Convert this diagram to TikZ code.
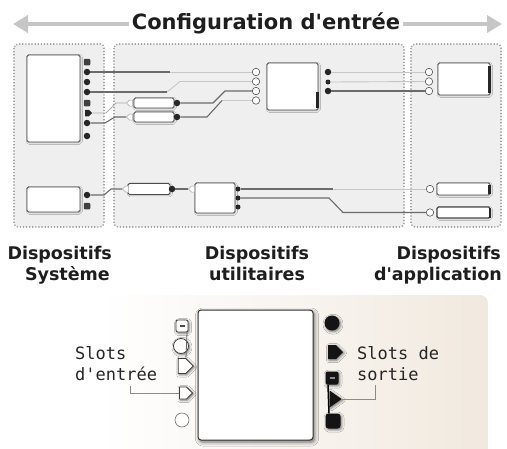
\documentclass[tikz,border=0pt]{standalone}
\usepackage{fontspec}
\setmainfont{DejaVu Sans}
\newfontfamily\monof{DejaVu Sans Mono}
\usetikzlibrary{arrows.meta,shapes.geometric,shapes.symbols,shadows.blur,calc}
\definecolor{panelfill}{HTML}{EFEFEF}
\definecolor{paneldot}{HTML}{A6A6A6}
\definecolor{beige}{HTML}{F1E9DF}
\definecolor{arrowgray}{HTML}{C6C6C6}
\definecolor{textdark}{HTML}{1E1E1E}
\tikzset{
  panel/.style={fill=panelfill, draw=paneldot, line width=1.6pt, dash pattern=on 1.2pt off 1.9pt, rounded corners=4pt},
  dev/.style={draw=black!70, fill=white, line width=0.8pt, rounded corners=1.5pt, inner sep=0pt,
    blur shadow={shadow xshift=0.8pt, shadow yshift=-0.8pt, shadow blur radius=1.5pt, shadow opacity=25}},
  outc/.style={circle, fill=black!85, inner sep=0pt, minimum size=6.5pt},
  outsq/.style={rectangle, fill=black!75, rounded corners=1pt, inner sep=0pt, minimum size=6.5pt},
  outsig/.style={signal, signal to=east, fill=black!85, inner sep=0pt, minimum width=7pt, minimum height=6.5pt},
  ins/.style={circle, draw=black!65, fill=white, line width=0.6pt, inner sep=0pt, minimum size=7.5pt},
  insig/.style={signal, signal to=west, draw=black!35, fill=white, line width=0.5pt, inner sep=0pt, minimum width=6pt, minimum height=6pt},
  wire/.style={draw=black!58, line width=1.1pt},
  faint/.style={draw=black!22, line width=0.9pt},
  lab/.style={font=\bfseries\fontsize{17.5}{21}\selectfont, text=textdark, inner sep=0pt},
  mono/.style={font=\monof\fontsize{17}{20}\selectfont, text=black!85, inner sep=0pt},
  slotshadow/.style={blur shadow={shadow xshift=1pt, shadow yshift=-1.2pt, shadow blur radius=2.5pt, shadow opacity=55}},
  inslot/.style={draw=black!75, fill=white, line width=0.8pt, inner sep=0pt, slotshadow},
  outslot/.style={fill=black!92, inner sep=0pt, slotshadow},
  callout/.style={draw=black!45, line width=1pt},
  thick edge/.style={draw=black!85, line width=2.2pt}
}
\begin{document}
\begin{tikzpicture}[x=1pt, y=-1pt]
\useasboundingbox (0,0) rectangle (507,448);

% ---------- title ----------
\draw[arrowgray, line width=4.5pt, {Triangle[length=15pt,width=17pt]}-{Triangle[length=15pt,width=17pt]}] (13,24) -- (502,24);
\node[fill=white, inner xsep=3pt, inner ysep=2pt, anchor=base, font=\bfseries\fontsize{21}{24}\selectfont, text=textdark] (title) at (266,29.5) {Configuration d\textquotesingle entrée};

% ---------- panels ----------
\path[panel] (14,44) rectangle (104,227);
\path[panel] (114,44) rectangle (404,227);
\path[panel] (411,44) rectangle (501,227);

% ---------- system devices ----------
\node[dev, minimum width=53pt, minimum height=87pt] (sysA) at (53.5,98.5) {};
\node[outsq]  (p1) at (87,62) {};
\node[outc]   (p2) at (87,72) {};
\node[outc]   (p3) at (87,82) {};
\node[outc]   (p4) at (87,92) {};
\node[outsq]  (p5) at (87,103) {};
\node[outsig] (p6) at (87,113) {};
\node[outc]   (p7) at (87,123) {};
\node[outc]   (p8) at (87,136) {};

\node[dev, minimum width=53pt, minimum height=25pt] (sysB) at (53.5,199.5) {};
\node[outc]  (q1) at (87,195) {};
\node[outsq] (q2) at (87,206) {};

% ---------- utility devices ----------
\node[dev, minimum width=40pt, minimum height=10pt] (f1) at (154,103) {};
\node[dev, minimum width=40pt, minimum height=10pt] (f2) at (154,117) {};
\node[insig] (f1in) at (131,103) {};
\node[insig] (f2in) at (131,117) {};
\node[outc] (f1out) at (177,103) {};
\node[outc] (f2out) at (177,117) {};

\node[dev, minimum width=51pt, minimum height=47pt] (M) at (292.5,86.5) {};
\draw[thick edge] ($(M.south east)+(-1,-18)$) -- ($(M.south east)+(-1,-2)$);
\node[ins] (mi1) at (256,72) {};
\node[ins] (mi2) at (256,81.5) {};
\node[ins] (mi3) at (256,91) {};
\node[ins] (mi4) at (256,100.5) {};
\node[outc] (mo1) at (328,72) {};
\node[outc, minimum size=5pt] (mo2) at (328,82) {};
\node[outc] (mo3) at (328,91) {};

\node[dev, minimum width=42pt, minimum height=11pt] (L) at (149,189) {};
\node[insig] (li) at (127,189) {};
\node[outc] (lo) at (172,189) {};

\node[dev, minimum width=40pt, minimum height=30pt] (N) at (215,198) {};
\node[insig] (ni) at (193,189) {};
\node[outc, minimum size=5pt] (no1) at (238,189) {};
\node[outc, minimum size=5pt] (no2) at (238,198) {};
\node[outc, minimum size=5pt] (no3) at (238,207) {};

% ---------- application devices ----------
\node[dev, minimum width=52pt, minimum height=32pt] (R) at (464,79) {};
\draw[thick edge] ($(R.north east)+(-1,3)$) -- ($(R.south east)+(-1,-2)$);
\node[ins] (ri1) at (429,72) {};
\node[ins] (ri2) at (429,81.5) {};
\node[ins] (ri3) at (429,91) {};

\node[dev, minimum width=53pt, minimum height=12pt] (RB1) at (463.5,189) {};
\draw[thick edge] ($(RB1.north east)+(-1,2)$) -- ($(RB1.south east)+(-1,-1)$);
\node[ins] (rb1i) at (430,189) {};
\node[dev, minimum width=53pt, minimum height=11pt, line width=1.3pt] (RB2) at (463.5,212.5) {};
\draw[thick edge] ($(RB2.north east)+(-1,2)$) -- ($(RB2.south east)+(-1,-1)$);
\node[ins] (rb2i) at (430,212.5) {};

% ---------- wires ----------
\coordinate (wa) at (170,72);
\draw[faint] (p2.east) -- (mi1.west);
\draw[wire] (p2.east) -- (wa);

\coordinate (wb1) at (167,92);
\coordinate (wb2) at (180,81.5);
\draw[faint] (wb1) -- (wb2) -- (mi2.west);
\draw[wire] (p4.east) -- (wb1);

\coordinate (wc1) at (213,103);
\coordinate (wc2) at (225,91);
\draw[wire] (f1out.east) -- (wc1) -- (wc2) -- (mi3.west);

\coordinate (wd1) at (207,117);
\coordinate (wd2) at (222,100.5);
\draw[faint] (wd2) -- (mi4.west);
\draw[wire] (f2out.east) -- (wd1) -- (wd2);

\coordinate (we1) at (106,113);
\coordinate (we2) at (116,103);
\draw[draw=black!32, line width=0.9pt] (p6.east) -- (we1) -- (we2) -- (f1in.west);

\coordinate (wf1) at (105,123);
\coordinate (wf2) at (115,117);
\draw[wire] (p7.east) -- (wf1) -- (wf2) -- (f2in.west);

\draw[faint] (mo1.east) -- (ri1.west);
\draw[faint] (mo2.east) -- (ri2.west);
\draw[wire] (mo3.east) -- (ri3.west);

\coordinate (wh1) at (104,195);
\coordinate (wh2) at (111,189);
\draw[wire] (q1.east) -- (wh1) -- (wh2) -- (li.west);
\draw[wire] (lo.east) -- (ni.west);

\coordinate (wj) at (333,189);
\draw[faint] (wj) -- (rb1i.west);
\draw[wire] (no1.east) -- (wj);

\coordinate (wk1) at (329,198);
\coordinate (wk2) at (343,212.5);
\draw[wire] (no2.east) -- (wk1) -- (wk2) -- (rb2i.west);

% ---------- panel labels ----------
\node[lab, anchor=base east] (la1) at (112,259) {Dispositifs};
\node[lab, anchor=base east] (la2) at (110,280) {Système};
\node[lab, anchor=base] (lb1) at (257,259) {Dispositifs};
\node[lab, anchor=base] (lb2) at (257,280) {utilitaires};
\node[lab, anchor=base east] (lc1) at (501,259) {Dispositifs};
\node[lab, anchor=base east] (lc2) at (502,280) {d\textquotesingle application};

% ---------- bottom legend ----------
\begin{scope}
\clip (0,0) rectangle (507,448);
\shade[left color=white, right color=beige, rounded corners=8pt] (100,295) rectangle (488,470);
\end{scope}

\node[draw=black!80, fill=white, line width=1pt, rounded corners=3pt, minimum width=115pt, minimum height=130pt, inner sep=0pt,
  blur shadow={shadow xshift=1.5pt, shadow yshift=-2pt, shadow blur radius=4pt, shadow opacity=60}] (main) at (255.5,375) {};

% input slots
\node[inslot, rectangle, rounded corners=2pt, minimum size=12pt] (s1) at (182,326) {};
\draw[black!70, line width=1.3pt] ($(s1.center)+(-2.5,0)$) -- ($(s1.center)+(2.5,0)$);
\node[inslot, circle, minimum size=15pt] (s2) at (181,346) {};
\node[inslot, signal, signal to=east, minimum width=15pt, minimum height=15pt] (s3) at (182,366) {};
\node[inslot, signal, signal to=east, minimum width=13pt, minimum height=12pt] (s4) at (183,393) {};
\node[draw=black!55, fill=white, circle, line width=0.6pt, minimum size=14pt, inner sep=0pt] (s5) at (182,420) {};
\draw[black!60, line width=0.8pt] ($(s1.south)+(5,0)$) -- ($(s3.north)+(4,0)$);

% output slots
\node[outslot, circle, minimum size=15pt] (o1) at (332,323) {};
\node[outslot, signal, signal to=east, minimum width=15pt, minimum height=14pt] (o2) at (332,352) {};
\node[outslot, rectangle, rounded corners=2pt, minimum size=13pt] (o3) at (332,378) {};
\draw[black!45, line width=1.2pt] ($(o3.center)+(-2.5,0)$) -- ($(o3.center)+(2.5,0)$);
\node[outslot, isosceles triangle, isosceles triangle apex angle=70, minimum height=12pt, minimum width=10pt] (o4) at (334,399) {};
\node[outslot, rectangle, rounded corners=3pt, minimum size=15pt] (o5) at (333,421) {};
\draw[black, line width=1.5pt] ($(o3.south)+(-4,0)$) -- ($(o5.north)+(-4,0)$);

% texts and callouts
\node[mono, anchor=base west] (tin1) at (75,359) {Slots};
\node[mono, anchor=base west] (tin2) at (75,380) {d'entrée};
\node[mono, anchor=base west] (tout1) at (357,359) {Slots de};
\node[mono, anchor=base west] (tout2) at (357,380) {sortie};

\coordinate (cl) at (130,386);
\draw[callout] (cl) |- (s4.west);
\coordinate (cr) at (375,385);
\draw[callout] (o4.east) -| (cr);
\end{tikzpicture}
\end{document}
